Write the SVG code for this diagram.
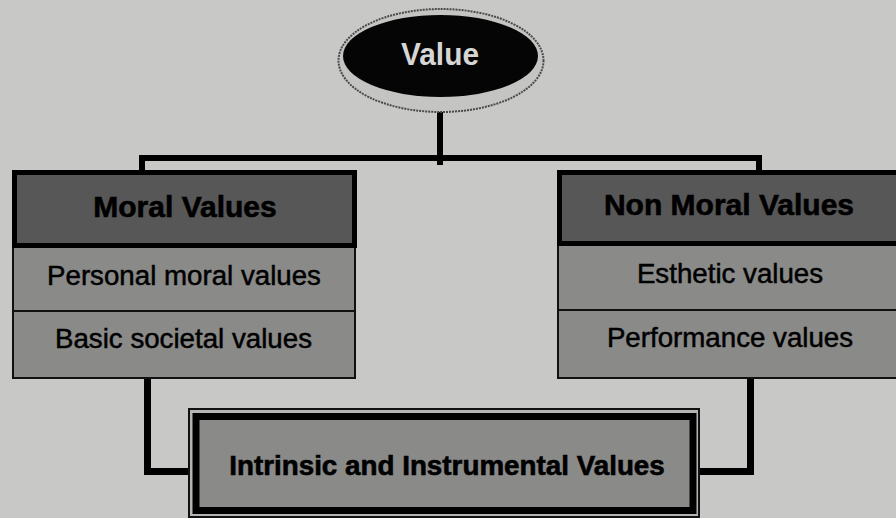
<svg xmlns="http://www.w3.org/2000/svg" width="896" height="518" viewBox="0 0 896 518">
  <style>
    .paper { fill: #c8c8c6; }
    .head { fill: #575757; stroke: #000; stroke-width: 5; }
    .row { fill: #8a8a89; stroke: #111; stroke-width: 2; }
    .conn { fill: none; stroke: #000; stroke-linecap: square; stroke-linejoin: miter; }
    .t-head { font-family: "Liberation Sans", Arial, sans-serif; font-weight: bold; font-size: 30px; fill: #000; stroke: #000; stroke-width: 0.6; text-anchor: middle; }
    .t-row { font-family: "Liberation Sans", Arial, sans-serif; font-size: 27.7px; fill: #000; stroke: #000; stroke-width: 0.5; text-anchor: middle; }
    .t-root { font-family: "Liberation Sans", Arial, sans-serif; font-weight: bold; font-size: 31px; fill: #d6d6d4; text-anchor: middle; }
    .t-base { font-family: "Liberation Sans", Arial, sans-serif; font-weight: bold; font-size: 27.8px; fill: #000; stroke: #000; stroke-width: 0.6; text-anchor: middle; }
  </style>

  <rect class="paper" x="0" y="0" width="896" height="518"/>

  <!-- connectors -->
  <g id="connectors">
    <line class="conn" x1="440" y1="110" x2="440" y2="162" stroke-width="6"/>
    <polyline class="conn" points="142,170 142,158 759,158 759,170" stroke-width="6"/>
    <polyline class="conn" points="147.5,380 147.5,471.5 190,471.5" stroke-width="7"/>
    <polyline class="conn" points="750.5,378 750.5,471.5 700,471.5" stroke-width="7"/>
  </g>

  <!-- root ellipse with its raised rim -->
  <g id="node-value">
    <ellipse cx="441" cy="60.5" rx="102.5" ry="51.5" fill="#c4c4c2" stroke="#4a4a4a" stroke-width="2" stroke-dasharray="2 1"/>
    <ellipse cx="440.5" cy="56" rx="97.5" ry="41" fill="#050505"/>
    <text class="t-root" x="440" y="65" textLength="78" lengthAdjust="spacingAndGlyphs">Value</text>
  </g>

  <!-- moral values column -->
  <g id="node-moral">
    <rect class="row" x="13" y="245" width="342" height="66"/>
    <rect class="row" x="13" y="311" width="342" height="67"/>
    <rect class="head" x="14.5" y="172.5" width="340" height="73"/>
    <text class="t-head" x="185" y="217">Moral Values</text>
    <text class="t-row" x="184" y="285">Personal moral values</text>
    <text class="t-row" x="183.5" y="348">Basic societal values</text>
  </g>

  <!-- non moral values column -->
  <g id="node-nonmoral">
    <rect class="row" x="558" y="244" width="350" height="66"/>
    <rect class="row" x="558" y="310" width="350" height="68"/>
    <rect class="head" x="559.5" y="172.5" width="350" height="71"/>
    <text class="t-head" x="729" y="215">Non Moral Values</text>
    <text class="t-row" x="730" y="283">Esthetic values</text>
    <text class="t-row" x="730" y="347">Performance values</text>
  </g>

  <!-- intrinsic / instrumental box with double border -->
  <g id="node-intrinsic">
    <rect x="189" y="409" width="510" height="108" fill="#b4b4b2" stroke="#111" stroke-width="2"/>
    <rect x="196" y="416.5" width="497" height="94" fill="#8a8a89" stroke="#000" stroke-width="7"/>
    <text class="t-base" x="447" y="475">Intrinsic and Instrumental Values</text>
  </g>
</svg>
